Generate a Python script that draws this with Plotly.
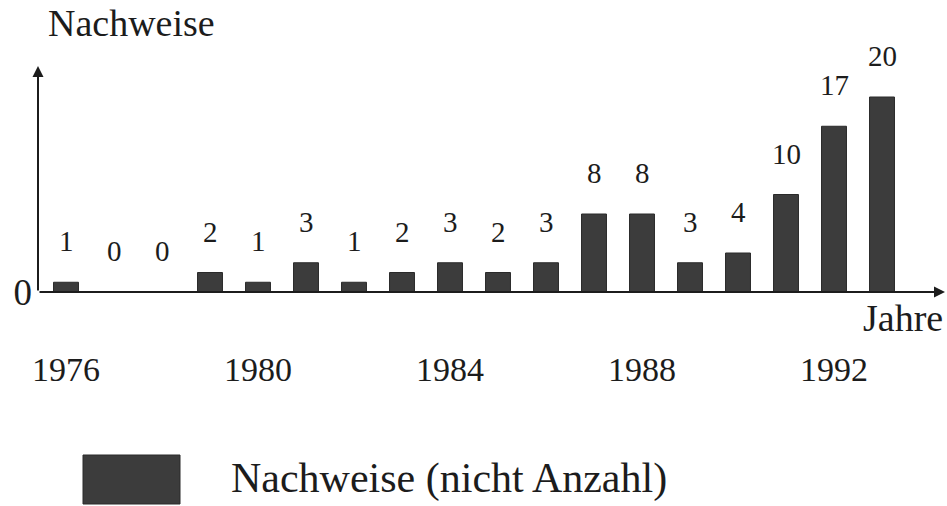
import plotly.graph_objects as go

# ---- data ----
years = list(range(1976, 1994))
values = [1, 0, 0, 2, 1, 3, 1, 2, 3, 2, 3, 8, 8, 3, 4, 10, 17, 20]
year_ticks = [1976, 1980, 1984, 1988, 1992]
y_title = "Nachweise"
x_title = "Jahre"
legend_label = "Nachweise (nicht Anzahl)"

# ---- layout constants (screen pixels) ----
W, H = 947, 506
AXIS_X, BASE_Y, TOP_Y, RIGHT_X = 38, 292, 66, 945
ML = AXIS_X
MT = TOP_Y
MB = H - BASE_Y
MR = W - RIGHT_X
PW, PH = W - ML - MR, H - MT - MB
FONT = "Liberation Serif, Times New Roman, serif"
INK = "#1c1c1c"
BAR = "#3c3c3c"


def px_to_paper_x(px):
    return (px - AXIS_X) / PW


def py_to_paper_y(py):
    return (BASE_Y - py) / PH


fig = go.Figure()
fig.add_trace(go.Bar(
    x=years, y=values, width=0.52,
    marker=dict(color=BAR, line=dict(color="#2a2a2a", width=1)),
    name=legend_label, showlegend=False, hoverinfo="x+y",
))

annotations = []
# value labels above each bar
for yr, v in zip(years, values):
    annotations.append(dict(
        x=yr, y=v, xref="x", yref="y", text=str(v), showarrow=False,
        yanchor="middle", yshift=41, font=dict(family=FONT, size=29, color=INK),
    ))

# axis arrows
annotations.append(dict(x=0, y=1, xref="paper", yref="paper", ax=0, ay=PH,
                        axref="pixel", ayref="pixel", text="", showarrow=True,
                        arrowhead=2, arrowsize=1.1, arrowwidth=2, arrowcolor=INK))
annotations.append(dict(x=1, y=0, xref="paper", yref="paper", ax=-PW, ay=0,
                        axref="pixel", ayref="pixel", text="", showarrow=True,
                        arrowhead=2, arrowsize=1.1, arrowwidth=2, arrowcolor=INK))

# axis titles
annotations.append(dict(x=px_to_paper_x(46), y=py_to_paper_y(23), xref="paper",
                        yref="paper", xanchor="left", yanchor="middle",
                        text=y_title, showarrow=False,
                        font=dict(family=FONT, size=38, color=INK)))
annotations.append(dict(x=1, y=py_to_paper_y(318), xref="paper", yref="paper",
                        xanchor="right", yanchor="middle", text=x_title,
                        showarrow=False, font=dict(family=FONT, size=38, color=INK)))

# manual legend
annotations.append(dict(x=px_to_paper_x(229), y=py_to_paper_y(479), xref="paper",
                        yref="paper", xanchor="left", yanchor="middle",
                        text=legend_label, showarrow=False,
                        font=dict(family=FONT, size=42, color=INK)))
shapes = [dict(type="rect", xref="paper", yref="paper",
               x0=px_to_paper_x(83), x1=px_to_paper_x(180),
               y0=py_to_paper_y(504), y1=py_to_paper_y(455),
               fillcolor=BAR, line=dict(color="#2a2a2a", width=1))]

fig.update_layout(
    width=W, height=H,
    margin=dict(l=ML, r=MR, t=MT, b=MB, pad=0),
    paper_bgcolor="white", plot_bgcolor="white",
    annotations=annotations, shapes=shapes,
    xaxis=dict(range=[1976 - 28 / 48, 1976 + (RIGHT_X - AXIS_X - 28) / 48],
               tickvals=year_ticks, ticktext=[str(t) for t in year_ticks],
               showgrid=False, zeroline=False, showline=False, ticks="",
               ticklabelstandoff=54,
               tickfont=dict(family=FONT, size=34, color=INK)),
    yaxis=dict(range=[0, PH / 9.75], tickvals=[0], ticktext=["0"], showgrid=False,
               zeroline=False, showline=False, ticks="", ticklabelstandoff=5,
               tickfont=dict(family=FONT, size=37, color=INK)),
)

fig.write_html(
    "out.html",
    config={"displayModeBar": False},
    post_script="document.body.style.margin='0px';"
                "document.body.style.overflow='hidden';",
)
